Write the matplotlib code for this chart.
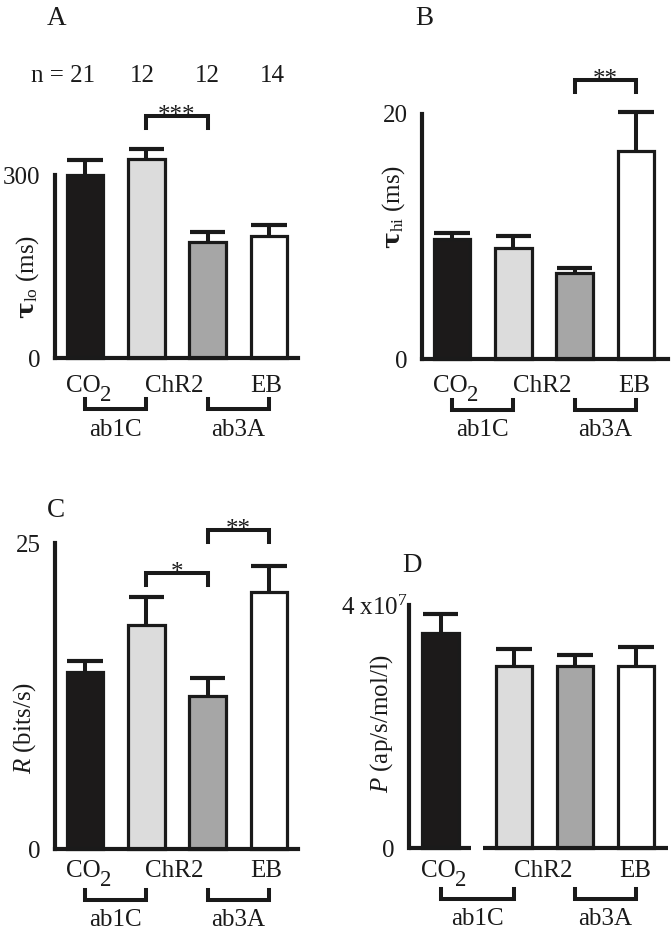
import numpy as np
import matplotlib
matplotlib.use('Agg')
import matplotlib.pyplot as plt

plt.rcParams['font.family'] = ['Liberation Serif', 'DejaVu Serif']
plt.rcParams['mathtext.fontset'] = 'custom'
plt.rcParams['mathtext.rm'] = 'Liberation Serif'
plt.rcParams['mathtext.it'] = 'Liberation Serif:italic'
plt.rcParams['mathtext.bf'] = 'DejaVu Serif:bold'
plt.rcParams['font.size'] = 18

# data (mean, sem)
stim_labels = [('CO', '2'), ('ChR2', ''), ('EB', '')]
group_labels = ['ab1C', 'ab3A']
n_cells = ['n = 21', '12', '12', '14']

tau_lo = [300, 326, 191, 201]
tau_lo_sem = [25, 16, 15, 17]
tau_hi = [9.8, 9.05, 7.0, 16.95]
tau_hi_sem = [0.5, 1.0, 0.45, 3.25]
rate = [14.5, 18.3, 12.5, 21.0]
rate_sem = [0.9, 2.3, 1.45, 2.1]
power = [3.54e7, 3.0e7, 3.0e7, 3.0e7]
power_sem = [0.31e7, 0.27e7, 0.18e7, 0.31e7]

W, H = 671, 930
ink = '#1a1a1a'
bar_colors = ['#1c1a1a', '#dcdcdc', '#a6a6a6', '#ffffff']

fig = plt.figure(figsize=(W / 100, H / 100), dpi=100)


def panel(letter, vals, sems, ytop, ylabel, lay, sig=(), toplabel=None, nlab=False):
    left, right, y0, ytp, c0, s = lay['box']
    pos = np.array(lay.get('pos', [0, 1, 2, 3]), dtype=float)
    ax = fig.add_axes([left / W, 1 - y0 / H, (right - left) / W, (y0 - ytp) / H])
    ax.set_xlim((left - c0) / s, (right - c0) / s)
    ax.set_ylim(0, ytop)
    py = lambda p: ytop * (y0 - p) / (y0 - ytp)
    px = lambda p: (p - c0) / s

    vals = np.array(vals)
    sems = np.array(sems)
    ax.bar(pos, vals, width=0.6, color=bar_colors, edgecolor=ink,
           linewidth=2.3, clip_on=False, zorder=1)
    ax.vlines(pos, vals, vals + sems, color=ink, lw=2.9, clip_on=False)
    ax.hlines(vals + sems, pos - 0.29, pos + 0.29, color=ink, lw=3.0, clip_on=False)

    for side in ['top', 'right']:
        ax.spines[side].set_visible(False)
    for side in ['left', 'bottom']:
        ax.spines[side].set_linewidth(3.0)
        ax.spines[side].set_color(ink)
    ax.set_xticks([])
    ax.set_yticks([0, ytop])
    if toplabel is None:
        ax.set_yticklabels(['0', '%g' % ytop])
    else:
        ax.set_yticklabels(['0', ''])
        ax.annotate(toplabel, xy=(0, ytop), xycoords=('axes fraction', 'data'),
                    xytext=(-1, -7.5), textcoords='offset points',
                    ha='right', va='baseline', color=ink, annotation_clip=False)
    ax.tick_params(axis='y', length=0, pad=10.5, colors=ink, labelsize=18)
    ax.patch.set_visible(False)

    if lay.get('broken'):
        ax.spines['bottom'].set_visible(False)
        for a, b in lay['broken']:
            ax.plot([px(a), px(b)], [0, 0], color=ink, lw=3.0,
                    solid_capstyle='butt', clip_on=False)

    # stimulus labels under the axis (subscript kept near full size)
    yb = py(y0 + lay['lab_off'])
    for x, (t, sub) in zip(lay['stim_x'], stim_labels):
        if sub:
            ax.annotate(t, xy=(x, yb), xytext=(11, 0), textcoords='offset points',
                        ha='right', va='baseline', color=ink, annotation_clip=False)
            ax.annotate(sub, xy=(x, yb), xytext=(10.5, -6.5), textcoords='offset points',
                        ha='left', va='baseline', color=ink, fontsize=16.5,
                        annotation_clip=False)
        else:
            ax.text(x, yb, t, ha='center', va='baseline', color=ink)
    # sensillum group brackets
    for k, t in enumerate(group_labels):
        a, b = pos[2 * k], pos[2 * k + 1]
        ax.plot([a, a, b, b], [py(y0 + 41), py(y0 + 51), py(y0 + 51), py(y0 + 41)],
                color=ink, lw=2.9, solid_joinstyle='miter', clip_on=False)
        ax.text((a + b) / 2, py(y0 + 77), t, ha='center', va='baseline', color=ink)

    # significance brackets
    for i, j, hp, stars in sig:
        a, b = pos[i], pos[j]
        ax.plot([a, a, b, b], [py(hp + 12), py(hp), py(hp), py(hp + 12)],
                color=ink, lw=2.9, solid_joinstyle='miter', clip_on=False)
        ax.text((a + b) / 2, py(hp + 6), stars, ha='center', va='baseline',
                color=ink)

    if nlab:
        ax.text(px(95), py(82), n_cells[0], ha='right', va='baseline', color=ink)
        for x, t in zip([142.5, 207.5, 272.5], n_cells[1:]):
            ax.text(px(x), py(82), t, ha='center', va='baseline', color=ink)

    lx, ly = lay['letter']
    fig.text(lx / W, 1 - ly / H, letter, ha='left', va='baseline',
             fontsize=19.5, color=ink)
    yx, yy = lay['ylab']
    fig.text(yx / W, 1 - yy / H, ylabel, rotation=90, ha='center',
             va='center', color=ink)
    return ax


lay_a = dict(box=(55, 298, 358.5, 175, 85, 61.3), stim_x=[0, 1.45, 2.95],
             lab_off=33, letter=(47, 25), ylab=(28, 277))
lay_b = dict(box=(422, 668, 359, 114, 452, 61.3), stim_x=[0, 1.48, 2.97],
             lab_off=33, letter=(415, 25), ylab=(394, 207))
lay_c = dict(box=(55, 298, 849, 543, 85, 61.3), stim_x=[0, 1.45, 2.95],
             lab_off=28, letter=(47, 517), ylab=(25, 728))
lay_d = dict(box=(409, 668, 848, 605, 453, 61.0), pos=[-0.2, 1, 2, 3],
             stim_x=[-0.21, 1.48, 2.98], lab_off=29, letter=(402, 572),
             ylab=(382, 723), broken=[(409, 471), (483, 668)])

panel('A', tau_lo, tau_lo_sem, 300, r'$\mathbf{\tau}_{\mathrm{lo}}$ (ms)', lay_a,
      sig=[(1, 2, 116, '***')], nlab=True)
panel('B', tau_hi, tau_hi_sem, 20, r'$\mathbf{\tau}_{\mathrm{hi}}$ (ms)', lay_b,
      sig=[(2, 3, 80, '**')])
panel('C', rate, rate_sem, 25, r'$\mathit{R}$ (bits/s)', lay_c,
      sig=[(1, 2, 573, '*'), (2, 3, 530, '**')])
panel('D', power, power_sem, 4e7, r'$\mathit{P}$ (ap/s/mol/l)', lay_d,
      toplabel=r'4 x10$^{7}$')

fig.savefig('out.png', dpi=100)
